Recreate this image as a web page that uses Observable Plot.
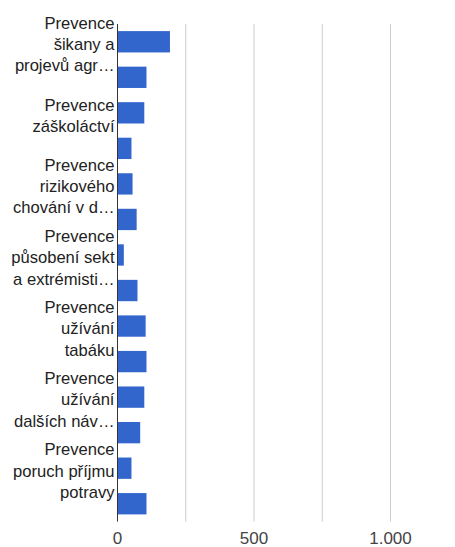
<!DOCTYPE html>
<html>
<head>
<meta charset="utf-8">
<script src="https://cdn.jsdelivr.net/npm/d3@7"></script>
<script src="https://cdn.jsdelivr.net/npm/@observablehq/plot@0.6"></script>
<style>
  html, body { margin: 0; padding: 0; background: #fff; }
</style>
</head>
<body>
<div id="chart"></div>
<script>
const labels = [
  "Prevence\nšikany a\nprojevů agr…", "",
  "Prevence\nzáškoláctví", "",
  "Prevence\nrizikového\nchování v d…", "",
  "Prevence\npůsobení sekt\na extrémisti…", "",
  "Prevence\nužívání\ntabáku", "",
  "Prevence\nužívání\ndalších náv…", "",
  "Prevence\nporuch příjmu\npotravy", ""
];
const values = [194, 108, 100, 53, 57, 72, 25, 75, 105, 108, 100, 85, 53, 108];
const gridTicks = [250, 500, 750, 1000];
const xTicks = [0, 500, 1000];
const xTickLabels = ["0", "500", "1.000"];

const data = values.map((v, i) => ({i, value: v}));

const chart = Plot.plot({
  width: 455,
  height: 547,
  marginLeft: 117,
  marginRight: 65,
  marginTop: 24,
  marginBottom: 25.5,
  style: {fontFamily: "'Liberation Sans', Arial, sans-serif", fontSize: "17px", background: "white"},
  x: {domain: [0, 1000], axis: null},
  y: {domain: d3.range(labels.length), paddingInner: 0.4, paddingOuter: 0.2, round: false, axis: null},
  marks: [
    Plot.ruleX(gridTicks, {stroke: "#cccccc", strokeWidth: 1}),
    Plot.barX(data, {x: "value", y: "i", fill: "#3366cc"}),
    Plot.ruleX([0], {stroke: "#333333", strokeWidth: 1}),
    Plot.axisY({tickSize: 0, tickPadding: 3, label: null, tickFormat: i => labels[i], fill: "#222222", lineHeight: 1.28, fontSize: 16.6, dy: 1}),
    Plot.axisX(xTicks, {tickSize: 0, tickPadding: 10, label: null, tickFormat: d => xTickLabels[xTicks.indexOf(d)], fill: "#444444", fontSize: 17})
  ]
});
document.getElementById("chart").appendChild(chart);
</script>
</body>
</html>
